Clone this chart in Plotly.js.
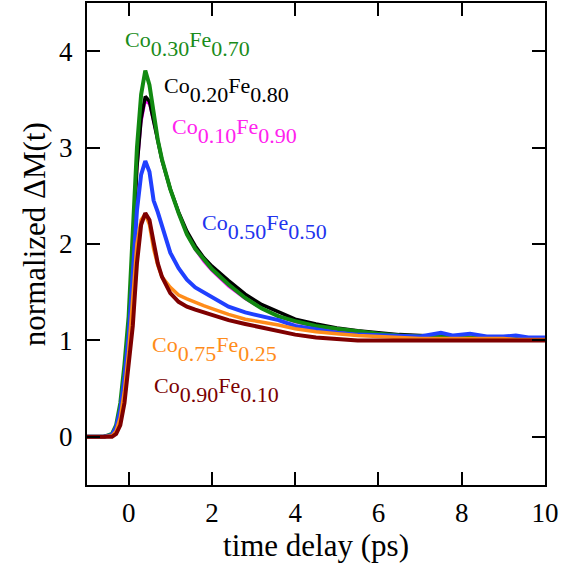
<!DOCTYPE html>
<html>
<head>
<meta charset="utf-8">
<script src="https://cdn.plot.ly/plotly-3.0.1.min.js"></script>
<style>html,body{margin:0;padding:0;background:#fff;}#chart{width:563px;height:575px;}</style>
</head>
<body>
<div id="chart"></div>
<script>
// time delay (ps)
const time = [-1, -0.6, -0.4, -0.3, -0.2, -0.1, 0, 0.1, 0.2, 0.3, 0.4, 0.5, 0.6, 0.7, 0.8, 1.0, 1.2, 1.4, 1.6, 1.8, 2.0, 2.4, 2.8, 3.2, 3.6, 4.0, 4.5, 5, 5.5, 6, 6.5, 7, 7.5, 7.8, 8.2, 8.6, 9, 9.3, 9.6, 10];

const co10fe90 = [0, 0, 0.02, 0.1, 0.3, 0.65, 1.1, 1.9, 2.75, 3.25, 3.48, 3.45, 3.27, 3.06, 2.88, 2.57, 2.31, 2.1, 1.94, 1.82, 1.72, 1.56, 1.43, 1.33, 1.25, 1.19, 1.14, 1.1, 1.07, 1.05, 1.03, 1.02, 1.02, 1.01, 1.01, 1.0, 1.0, 1.0, 1.0, 1.0];
const co20fe80 = [0, 0, 0.02, 0.1, 0.3, 0.68, 1.15, 1.95, 2.8, 3.3, 3.53, 3.48, 3.28, 3.05, 2.87, 2.57, 2.33, 2.13, 1.98, 1.86, 1.77, 1.62, 1.48, 1.37, 1.29, 1.22, 1.17, 1.13, 1.10, 1.08, 1.06, 1.05, 1.04, 1.03, 1.03, 1.03, 1.02, 1.02, 1.02, 1.02];
const co30fe70 = [0, 0, 0.03, 0.12, 0.35, 0.75, 1.25, 2.1, 3.0, 3.55, 3.8, 3.65, 3.35, 3.08, 2.88, 2.57, 2.32, 2.10, 1.95, 1.84, 1.74, 1.58, 1.44, 1.33, 1.25, 1.20, 1.15, 1.12, 1.09, 1.07, 1.05, 1.04, 1.04, 1.03, 1.03, 1.03, 1.02, 1.02, 1.02, 1.02];
const co50fe50 = [0, 0, 0.02, 0.1, 0.28, 0.62, 1.05, 1.7, 2.35, 2.72, 2.86, 2.75, 2.45, 2.33, 2.18, 1.91, 1.75, 1.63, 1.55, 1.50, 1.44, 1.35, 1.29, 1.25, 1.21, 1.15, 1.11, 1.08, 1.06, 1.05, 1.04, 1.04, 1.08, 1.05, 1.07, 1.04, 1.04, 1.05, 1.03, 1.03];
const co75fe25 = [0, 0, 0.01, 0.06, 0.2, 0.48, 0.88, 1.45, 2.0, 2.25, 2.31, 2.2, 1.95, 1.78, 1.66, 1.55, 1.47, 1.43, 1.39, 1.36, 1.33, 1.27, 1.22, 1.19, 1.16, 1.12, 1.09, 1.07, 1.05, 1.04, 1.03, 1.02, 1.02, 1.02, 1.02, 1.02, 1.02, 1.01, 1.01, 1.01];
const co90fe10 = [0, 0, 0.0, 0.03, 0.12, 0.35, 0.72, 1.15, 1.8, 2.2, 2.32, 2.25, 2.02, 1.8, 1.66, 1.49, 1.40, 1.35, 1.32, 1.29, 1.26, 1.21, 1.17, 1.13, 1.09, 1.06, 1.03, 1.01, 1.0, 1.0, 1.0, 1.0, 1.0, 1.0, 1.0, 1.0, 1.0, 1.0, 1.0, 1.0];

const seriesNames = ['Co0.10Fe0.90', 'Co0.20Fe0.80', 'Co0.30Fe0.70', 'Co0.50Fe0.50', 'Co0.75Fe0.25', 'Co0.90Fe0.10'];
const seriesValues = [co10fe90, co20fe80, co30fe70, co50fe50, co75fe25, co90fe10];
const lineColors = ['#ff00ff', '#000000', '#118a11', '#2040ff', '#ff8c1a', '#7f0000'];
const lineWidths = [2.5, 3.5, 4, 4, 3.5, 4];

const labelCo = ['0.30', '0.20', '0.10', '0.50', '0.75', '0.90'];
const labelFe = ['0.70', '0.80', '0.90', '0.50', '0.25', '0.10'];
const labelColors = ['#1a8c1a', '#000000', '#ff22ee', '#2233ee', '#ff8c1a', '#7a0000'];
const labelX = [-0.13, 0.81, 1.0, 1.72, 0.52, 0.57];
const labelY = [4.07, 3.6, 3.17, 2.18, 0.91, 0.49];

const FONT = 'Liberation Serif';

const traces = seriesValues.map((v, i) => ({
  x: time, y: v, type: 'scatter', mode: 'lines', name: seriesNames[i],
  line: {color: lineColors[i], width: lineWidths[i]}, hoverinfo: 'skip'
}));

const annotations = labelCo.map((c, i) => ({
  x: labelX[i], y: labelY[i], xref: 'x', yref: 'y', xanchor: 'left', yanchor: 'middle',
  showarrow: false,
  text: '<span style="font-size:22px">Co</span><sub><span style="font-size:22px">' + c + '</span></sub><span style="font-size:22px">Fe</span><sub><span style="font-size:22px">' + labelFe[i] + '</span></sub>',
  font: {family: FONT, size: 44, color: labelColors[i]}
}));

// y-axis title (placed as rotated annotation, slightly above the plot centre as in the reference)
annotations.push({
  text: 'normalized ΔM(t)', textangle: -90, showarrow: false,
  xref: 'paper', yref: 'paper', x: -0.114, y: 0.52, xanchor: 'center', yanchor: 'middle',
  font: {family: FONT, size: 31, color: '#000'}
});

const axisCommon = {
  ticks: 'inside', ticklen: 13, tickwidth: 2, tickcolor: '#000',
  showline: true, linewidth: 2, linecolor: '#000', mirror: 'ticks',
  showgrid: false, zeroline: false,
  tickfont: {family: FONT, size: 27, color: '#000'}
};

const layout = {
  width: 563, height: 575,
  margin: {l: 87, r: 18, t: 3, b: 90},
  paper_bgcolor: '#fff', plot_bgcolor: '#fff',
  showlegend: false,
  font: {family: FONT, color: '#000'},
  xaxis: Object.assign({}, axisCommon, {
    range: [-1, 10], tickvals: [0, 2, 4, 6, 8, 10], ticklabelstandoff: 3,
    title: {text: 'time delay (ps)', font: {family: FONT, size: 31, color: '#000'}, standoff: 4}
  }),
  yaxis: Object.assign({}, axisCommon, {
    range: [-0.5, 4.5], tickvals: [0, 1, 2, 3, 4], ticklabelstandoff: 7
  }),
  annotations: annotations
};

Plotly.newPlot('chart', traces, layout, {staticPlot: true, displayModeBar: false});
</script>
</body>
</html>
